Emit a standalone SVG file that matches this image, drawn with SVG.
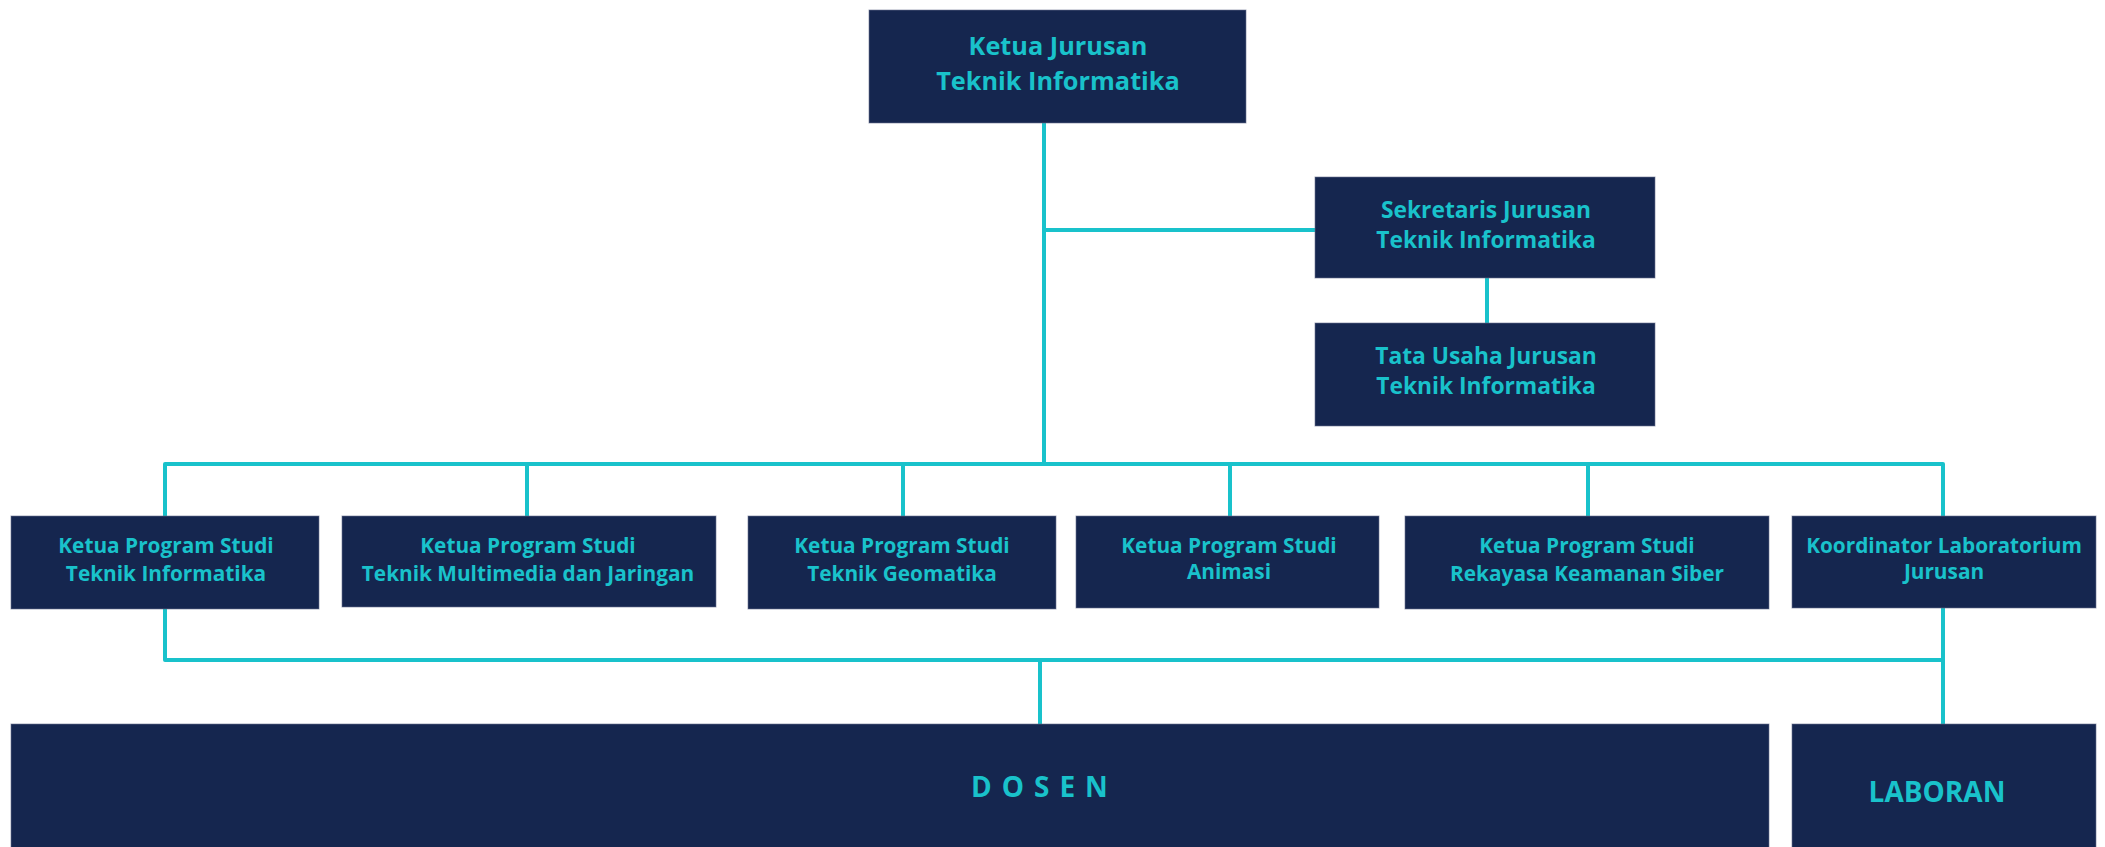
<svg xmlns="http://www.w3.org/2000/svg" width="2105" height="847" viewBox="0 0 2105 847">
<style>
.box{fill:#15264F;stroke:#6b7390;stroke-width:1;stroke-opacity:0.6}
.t{font-family:"Open Sans","Noto Sans","Liberation Sans",sans-serif;font-weight:700;fill:#19C2CB;text-anchor:middle}
.t24{font-size:25.3px}
.t21{font-size:22.8px}
.t19{font-size:20.8px}
.t28{font-size:28px}
.c{fill:none;stroke:#19C2CB;stroke-width:4;stroke-linejoin:round;stroke-linecap:butt}
</style>
<rect width="2105" height="847" fill="#ffffff"/>
<g id="connectors">
<path class="c" d="M1044,123 V464"/>
<path class="c" d="M1044,230 H1315"/>
<path class="c" d="M1487,278 V323"/>
<path class="c" d="M165,516 V464 H1943 V516"/>
<path class="c" d="M527,464 V516"/>
<path class="c" d="M903,464 V516"/>
<path class="c" d="M1230,464 V516"/>
<path class="c" d="M1588,464 V516"/>
<path class="c" d="M165,609 V660 H1943"/>
<path class="c" d="M1943,608 V724"/>
<path class="c" d="M1040,660 V724"/>
</g>
<g id="ketua-jurusan">
<rect class="box" x="869" y="10" width="377" height="113"/>
<text class="t t24" x="1058" y="55">Ketua Jurusan</text>
<text class="t t24" x="1058" y="90">Teknik Informatika</text>
</g>
<g id="sekretaris">
<rect class="box" x="1315" y="177" width="340" height="101"/>
<text class="t t21" x="1486" y="218">Sekretaris Jurusan</text>
<text class="t t21" x="1486" y="248">Teknik Informatika</text>
</g>
<g id="tata-usaha">
<rect class="box" x="1315" y="323" width="340" height="103"/>
<text class="t t21" x="1486" y="364">Tata Usaha Jurusan</text>
<text class="t t21" x="1486" y="394">Teknik Informatika</text>
</g>
<g id="kps-ti">
<rect class="box" x="11" y="516" width="308" height="93"/>
<text class="t t19" x="166" y="553">Ketua Program Studi</text>
<text class="t t19" x="166" y="581">Teknik Informatika</text>
</g>
<g id="kps-tmj">
<rect class="box" x="342" y="516" width="374" height="91"/>
<text class="t t19" x="528" y="553">Ketua Program Studi</text>
<text class="t t19" x="528" y="581">Teknik Multimedia dan Jaringan</text>
</g>
<g id="kps-tg">
<rect class="box" x="748" y="516" width="308" height="93"/>
<text class="t t19" x="902" y="553">Ketua Program Studi</text>
<text class="t t19" x="902" y="581">Teknik Geomatika</text>
</g>
<g id="kps-animasi">
<rect class="box" x="1076" y="516" width="303" height="92"/>
<text class="t t19" x="1229" y="553">Ketua Program Studi</text>
<text class="t t19" x="1229" y="579">Animasi</text>
</g>
<g id="kps-rks">
<rect class="box" x="1405" y="516" width="364" height="93"/>
<text class="t t19" x="1587" y="553">Ketua Program Studi</text>
<text class="t t19" x="1587" y="581">Rekayasa Keamanan Siber</text>
</g>
<g id="koordinator-lab">
<rect class="box" x="1792" y="516" width="304" height="92"/>
<text class="t t19" x="1944" y="553">Koordinator Laboratorium</text>
<text class="t t19" x="1944" y="579">Jurusan</text>
</g>
<g id="dosen">
<rect class="box" x="11" y="724" width="1758" height="130"/>
<text class="t t28" x="971" y="797" style="text-anchor:start;letter-spacing:10px">DOSEN</text>
</g>
<g id="laboran">
<rect class="box" x="1792" y="724" width="304" height="130"/>
<text class="t t28" x="1937" y="802">LABORAN</text>
</g>
</svg>
